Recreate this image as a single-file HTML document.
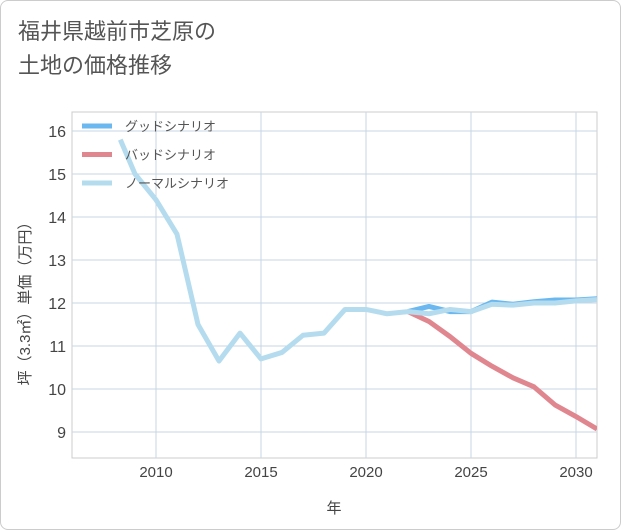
<!DOCTYPE html>
<html><head><meta charset="utf-8"><style>
body{margin:0;background:#fff;font-family:"Liberation Sans","Noto Sans CJK JP",sans-serif}
#wrap{position:relative;width:619px;height:528px;border:1px solid #ccc;border-radius:8px;overflow:hidden}
#title{position:absolute;left:17px;top:14px;font-size:22px;line-height:34px;color:#555}
</style></head><body>
<div id="wrap">
<div id="title">福井県越前市芝原の<br>土地の価格推移</div>
<svg id="svg" width="621" height="530" style="position:absolute;left:-1px;top:-1px"></svg>
</div>
<script>
const years=[2008.3,2009,2010,2011,2012,2013,2014,2015,2016,2017,2018,2019,2020,2021,2022,2023,2024,2025,2026,2027,2028,2029,2030,2031];
const normal=[15.8,15.0,14.4,13.6,11.5,10.65,11.3,10.7,10.85,11.25,11.3,11.85,11.85,11.75,11.8,11.75,11.85,11.8,11.97,11.95,12.0,12.0,12.05,12.08];
const futureYears=[2022,2023,2024,2025,2026,2027,2028,2029,2030,2031];
const good=[11.8,11.92,11.8,11.8,12.02,11.97,12.03,12.07,12.07,12.1];
const bad=[11.8,11.57,11.22,10.83,10.53,10.26,10.05,9.63,9.36,9.07];
const xTicks=[2010,2015,2020,2025,2030];
const yTicks=[9,10,11,12,13,14,15,16];
const L=72,R=597,T=112,B=458;
const X=v=>L+(v-2006)*(R-L)/25;
const Y=v=>131+(16-v)*43;
const svg=document.getElementById('svg');const NS='http://www.w3.org/2000/svg';
function mk(t,a,txt){const e=document.createElementNS(NS,t);for(const k in a)e.setAttribute(k,a[k]);if(txt!=null)e.textContent=txt;svg.appendChild(e);return e;}
let e=mk('rect',{x:L,y:T,width:R-L,height:B-T,fill:'none',stroke:'#ccc'});

for(const t of xTicks){
 e=mk('line',{x1:X(t),x2:X(t),y1:T,y2:B,stroke:'#c8d6e3'});
 e=mk('text',{x:X(t),y:477,'text-anchor':'middle','font-size':15,fill:'#444'},t);
}
for(const t of yTicks){
 e=mk('line',{x1:L,x2:R,y1:Y(t),y2:Y(t),stroke:'#c8d6e3'});
 e=mk('text',{x:66,y:Y(t)+6,'text-anchor':'end','font-size':16,fill:'#444'},t);
}
e=mk('text',{x:334,y:513,'text-anchor':'middle','font-size':15,fill:'#444'},'年');
e=mk('text',{x:0,y:0,'text-anchor':'middle','font-size':15,fill:'#444',transform:'translate(30,300) rotate(-90)'},'坪（3.3㎡）単価（万円）');
const g=mk('g',{'clip-path':'url(#c)'});
mk('clipPath',{id:'c'}).appendChild(Object.assign(document.createElementNS(NS,'rect'),{}));
svg.lastChild.firstChild.setAttribute('x',L);svg.lastChild.firstChild.setAttribute('y',T);svg.lastChild.firstChild.setAttribute('width',R-L);svg.lastChild.firstChild.setAttribute('height',B-T);
function line(xs,ys,col,name){const p=document.createElementNS(NS,'polyline');p.setAttribute('points',xs.map((x,i)=>X(x)+','+Y(ys[i])).join(' '));p.setAttribute('fill','none');p.setAttribute('stroke',col);p.setAttribute('stroke-width',5);p.setAttribute('stroke-linejoin','round');
g.appendChild(p);}
line(futureYears,bad,'#e0868f','bad-scenario-line');
line(futureYears,good,'#6ab8ef','good-scenario-line');
line(years,normal,'#b4dcee','normal-scenario-line');
const leg=[['グッドシナリオ','#6ab8ef'],['バッドシナリオ','#e0868f'],['ノーマルシナリオ','#b4dcee']];
leg.forEach((l,i)=>{const y=126+i*28.5;
 e=mk('line',{x1:82,x2:112,y1:y,y2:y,stroke:l[1],'stroke-width':5});
 e=mk('text',{x:125,y:y+5,'font-size':13,fill:'#555'},l[0]);
});
</script>
</body></html>
